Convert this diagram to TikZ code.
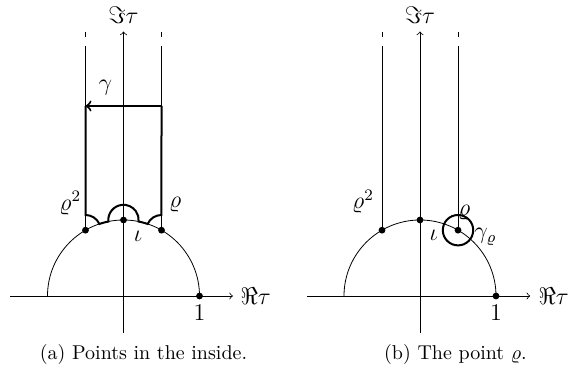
\documentclass[tikz,border=0pt]{standalone}
\tikzset{
  >=to,
  axis/.style={line width=0.4pt},
  thinline/.style={line width=0.4pt},
  contour/.style={line width=1pt},
  dot/.style={circle,fill=black,inner sep=0pt,minimum size=3.4pt},
  lab/.style={inner sep=0pt,font=\large},
  captext/.style={inner sep=0pt,font=\normalsize},
}
\begin{document}
\begin{tikzpicture}
\useasboundingbox (0,0) rectangle (288.5pt,187pt);
% ---------------- left picture ----------------
\begin{scope}[shift={(61.75pt,39pt)},x=38pt,y=38pt]
  \coordinate (La) at (-1.49,0);
  \coordinate (Lb) at (1.44,0);
  \coordinate (Lc) at (0,-0.49);
  \coordinate (Ld) at (0,3.48);
  \coordinate (Lm) at (-1,0);
  \coordinate (Lr2top) at (-0.5,3.29);
  \coordinate (Lrtop) at (0.5,3.29);
  \coordinate (Lr2d1) at (-0.5,3.41);
  \coordinate (Lr2d2) at (-0.5,3.48);
  \coordinate (Lrd1) at (0.5,3.41);
  \coordinate (Lrd2) at (0.5,3.48);
  \node[dot] (Lr2) at (-0.5,0.866) {};
  \node[dot] (Lr) at (0.5,0.866) {};
  \node[dot] (Li) at (0,1) {};
  \node[dot] (L1) at (1,0) {};
  \draw[axis,->] (La) -- (Lb);
  \draw[axis,->] (Lc) -- (Ld);
  \draw[thinline] (Lm) arc[start angle=180,end angle=0,radius=1];
  \draw[thinline] (Lr2.center) -- (Lr2top);
  \draw[thinline] (Lr.center) -- (Lrtop);
  \draw[thinline] (Lr2d1) -- (Lr2d2);
  \draw[thinline] (Lrd1) -- (Lrd2);
  % contour gamma
  \coordinate (Gtr) at (0.5,2.5);
  \coordinate (Gtl) at (-0.5,2.5);
  \coordinate (Gs) at (-0.5,1.066);
  \draw[contour,->] (Gtr) -- (Gtl);
  \draw[contour] (Gtl) -- (Gs)
    arc[start angle=90,end angle=24.26,radius=0.2]
    arc[start angle=108.52,end angle=101.48,radius=1]
    arc[start angle=185.74,end angle=-5.74,radius=0.2]
    arc[start angle=78.52,end angle=71.48,radius=1]
    arc[start angle=155.74,end angle=90,radius=0.2]
    -- (Gtr);
  \node[lab] (Lg) at (-0.24,2.74) {$\gamma$};
  \node[lab] (LIm) at (0,3.69) {$\Im\tau$};
  \node[lab] (LRe) at (1.74,0) {$\Re\tau$};
  \node[lab] (Lone) at (1,-0.22) {$1$};
  \node[lab] (Lr2l) at (-0.70,1.22) {$\varrho^2$};
  \node[lab] (Lrl) at (0.68,1.2) {$\varrho$};
  \node[lab] (Lil) at (0.19,0.78) {$\iota$};
\end{scope}
\node[captext] (Lcap) at (71.75pt,9.5pt) {(a) Points in the inside.};
% ---------------- right picture ----------------
\begin{scope}[shift={(210pt,39pt)},x=38pt,y=38pt]
  \coordinate (Ra) at (-1.49,0);
  \coordinate (Rb) at (1.45,0);
  \coordinate (Rc) at (0,-0.49);
  \coordinate (Rd) at (0,3.48);
  \coordinate (Rm) at (-1,0);
  \coordinate (Rr2top) at (-0.5,3.29);
  \coordinate (Rrtop) at (0.5,3.29);
  \coordinate (Rr2d1) at (-0.5,3.41);
  \coordinate (Rr2d2) at (-0.5,3.48);
  \coordinate (Rrd1) at (0.5,3.41);
  \coordinate (Rrd2) at (0.5,3.48);
  \node[dot] (Rr2) at (-0.5,0.866) {};
  \node[dot] (Rr) at (0.5,0.866) {};
  \node[dot] (Ri) at (0,1) {};
  \node[dot] (R1) at (1,0) {};
  \draw[axis,->] (Ra) -- (Rb);
  \draw[axis,->] (Rc) -- (Rd);
  \draw[thinline] (Rm) arc[start angle=180,end angle=0,radius=1];
  \draw[thinline] (Rr2.center) -- (Rr2top);
  \draw[thinline] (Rr.center) -- (Rrtop);
  \draw[thinline] (Rr2d1) -- (Rr2d2);
  \draw[thinline] (Rrd1) -- (Rrd2);
  \draw[contour] (Rr.center) circle[radius=0.2];
  \node[lab] (RIm) at (0,3.69) {$\Im\tau$};
  \node[lab] (RRe) at (1.76,0) {$\Re\tau$};
  \node[lab] (Rone) at (1,-0.22) {$1$};
  \node[lab] (Rr2l) at (-0.75,1.24) {$\varrho^2$};
  \node[lab] (Rrl) at (0.58,1.1) {$\varrho$};
  \node[lab] (Rgl) at (0.86,0.78) {$\gamma_\varrho$};
  \node[lab] (Ril) at (0.18,0.8) {$\iota$};
\end{scope}
\node[captext] (Rcap) at (227.75pt,9.5pt) {(b) The point $\varrho$.};
\end{tikzpicture}
\end{document}
